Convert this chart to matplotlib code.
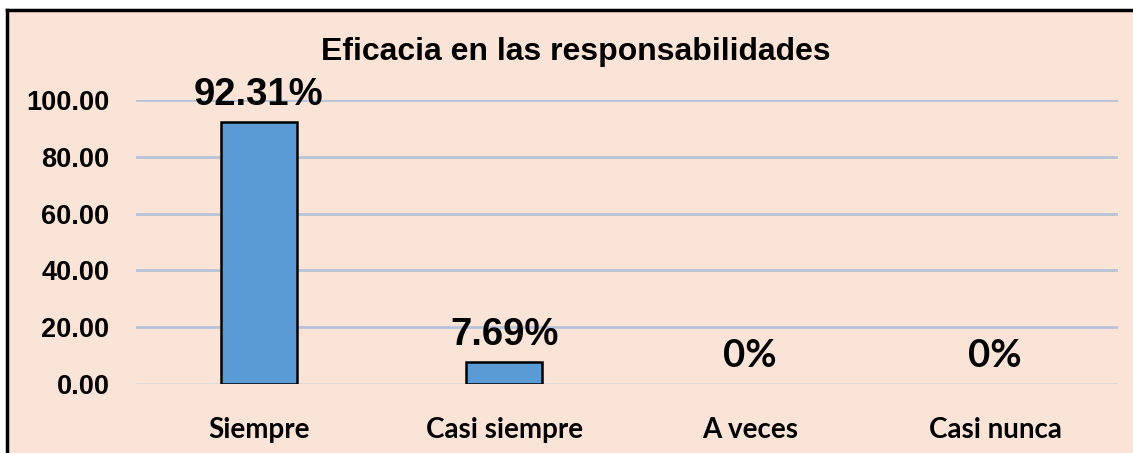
import matplotlib.pyplot as plt
from matplotlib.patches import Rectangle
from matplotlib.lines import Line2D

# Data
categories = ['Siempre', 'Casi siempre', 'A veces', 'Casi nunca']
values = [92.31, 7.69, 0.0, 0.0]
labels = ['92.31%', '7.69%', '0%', '0%']
yticks = [0, 20, 40, 60, 80, 100]

bg = '#FAE4D7'
bar_color = '#5B9BD5'

fig = plt.figure(figsize=(11.33, 4.53), dpi=100)
fig.patch.set_facecolor('white')

# chart area background + black frame (only top and left visible)
W, H = 1133, 453
fig.patches.append(Rectangle((7 / W, -0.1), 1.1, (H - 10) / H + 0.1, transform=fig.transFigure,
                             facecolor=bg, edgecolor='none', zorder=-10))
fig.lines.append(Line2D([7 / W, 1.05], [(H - 10) / H] * 2, transform=fig.transFigure,
                        color='black', linewidth=2.5))
fig.lines.append(Line2D([7 / W] * 2, [-0.05, (H - 10) / H], transform=fig.transFigure,
                        color='black', linewidth=2.5))

ax = fig.add_axes([136 / W, (H - 384) / H, (1118 - 136) / W, 284 / H])
ax.set_facecolor('none')

x = list(range(len(categories)))
bars = ax.bar(x, values, width=0.31, color=bar_color, edgecolor='black', linewidth=1.8, zorder=3)
for b, v in zip(bars, values):
    if v == 0:
        b.set_visible(False)

ax.set_xlim(-0.5, len(categories) - 0.5)
ax.set_ylim(0, 100)
ax.set_yticks(yticks)
ax.set_yticklabels([f'{v:.2f}' for v in yticks], fontsize=19.5, fontweight='bold',
                   family='Liberation Sans')
ax.set_xticks(x)
ax.set_xticklabels(categories, fontsize=20, fontweight='bold', family='Lato')
ax.tick_params(axis='both', length=0)
ax.tick_params(axis='x', pad=24)
ax.tick_params(axis='y', pad=19)

for v in yticks:
    col = '#D9D9D9' if v == 0 else '#B7C3D8'
    ax.axhline(v, color=col, linewidth=2, zorder=1)

for s in ax.spines.values():
    s.set_visible(False)

for xi, v, lab in zip(x, values, labels):
    fam = 'Liberation Sans' if v > 0 else 'Lato'
    ax.annotate(lab, (xi, v), xytext=(0, 12), textcoords='offset points',
                ha='center', va='baseline', fontsize=27.5, fontweight='bold',
                family=fam)

fig.text(576 / W, 1 - 60 / H, 'Eficacia en las responsabilidades', ha='center', va='baseline',
         fontsize=23, fontweight='bold', family='Liberation Sans')

fig.savefig('out.png', dpi=100)
